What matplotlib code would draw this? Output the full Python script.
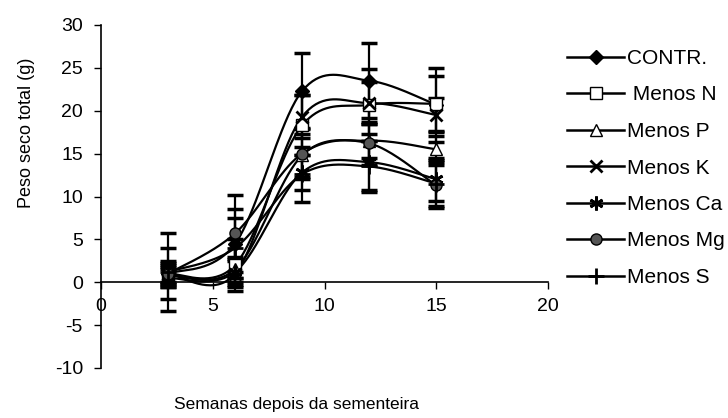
import numpy as np
import matplotlib
matplotlib.use("Agg")
import matplotlib.pyplot as plt

plt.rcParams['font.family'] = ['Liberation Sans', 'DejaVu Sans']
plt.rcParams['axes.unicode_minus'] = False

weeks = [3, 6, 9, 12, 15]
labels = ["CONTR.", " Menos N", "Menos P", "Menos K", "Menos Ca", "Menos Mg", "Menos S"]

contr = [1.0, 4.5, 22.3, 23.5, 20.7]
menos_n = [1.0, 2.0, 18.3, 20.7, 20.8]
menos_p = [0.8, 1.5, 14.8, 16.5, 15.5]
menos_k = [1.0, 1.0, 19.3, 20.9, 19.5]
menos_ca = [0.5, 1.2, 12.8, 14.0, 12.0]
menos_mg = [1.0, 5.7, 15.0, 16.2, 11.3]
menos_s = [1.2, 4.0, 12.6, 13.5, 11.5]

err_contr = [3.0, 4.0, 4.4, 4.4, 4.3]
err_n = [1.5, 3.0, 3.5, 4.2, 3.2]
err_p = [1.0, 1.5, 2.5, 2.0, 1.5]
err_k = [1.0, 1.5, 2.5, 2.5, 2.0]
err_ca = [1.0, 1.5, 2.0, 3.3, 2.5]
err_mg = [1.2, 4.5, 3.0, 2.5, 2.4]
err_s = [4.5, 3.5, 3.2, 3.0, 2.8]

series = [contr, menos_n, menos_p, menos_k, menos_ca, menos_mg, menos_s]
errors = [err_contr, err_n, err_p, err_k, err_ca, err_mg, err_s]
markers = [dict(marker='D', mfc='black', ms=7),
           dict(marker='s', mfc='white', ms=8),
           dict(marker='^', mfc='white', ms=8),
           dict(marker='x', mfc='black', ms=9, mew=2),
           dict(marker=(6, 2, 0), mfc='black', ms=10, mew=2),
           dict(marker='o', mfc='#555555', ms=8),
           dict(marker='+', mfc='black', ms=12, mew=2)]


def smooth(x, y, n=40):
    x = np.asarray(x, float)
    y = np.asarray(y, float)
    px = np.concatenate([[x[0]], x, [x[-1]]])
    py = np.concatenate([[y[0]], y, [y[-1]]])
    xs, ys = [], []
    t = np.linspace(0, 1, n)
    for i in range(1, len(px) - 2):
        p0 = np.array([px[i], py[i]])
        p3 = np.array([px[i + 1], py[i + 1]])
        p1 = p0 + (np.array([px[i + 1], py[i + 1]]) - np.array([px[i - 1], py[i - 1]])) / 6
        p2 = p3 - (np.array([px[i + 2], py[i + 2]]) - np.array([px[i], py[i]])) / 6
        b = ((1 - t) ** 3)[:, None] * p0 + (3 * (1 - t) ** 2 * t)[:, None] * p1 \
            + (3 * (1 - t) * t ** 2)[:, None] * p2 + (t ** 3)[:, None] * p3
        xs.extend(b[:, 0])
        ys.extend(b[:, 1])
    return xs, ys


fig = plt.figure(figsize=(7.28, 4.18), dpi=100)
ax = fig.add_axes([101 / 728, 50 / 418, (548 - 101) / 728, (393 - 50) / 418])

handles = []
for vals, errs, mk, lab in zip(series, errors, markers, labels):
    sx, sy = smooth(weeks, vals)
    ax.plot(sx, sy, color='black', lw=1.6, zorder=2)
    ax.errorbar(weeks, vals, yerr=errs, fmt='none', ecolor='black',
                elinewidth=1.6, capsize=6, capthick=2.5, zorder=3)
    ax.plot(weeks, vals, linestyle='none', color='black', mec='black',
            zorder=4, **mk)
    h, = ax.plot([], [], color='black', lw=1.8, mec='black', **mk)
    handles.append(h)

ax.set_xlim(0, 20)
ax.set_ylim(-10, 30)
ax.set_xticks([0, 5, 10, 15, 20])
ax.set_yticks(range(-10, 31, 5))
ax.spines['top'].set_visible(False)
ax.spines['right'].set_visible(False)
ax.spines['bottom'].set_position(('data', 0))
ax.spines['left'].set_linewidth(1.2)
ax.spines['bottom'].set_linewidth(1.2)
ax.tick_params(axis='y', direction='out', length=5, width=1, labelsize=14, pad=8)
ax.tick_params(axis='x', direction='out', length=5, width=1, labelsize=14, pad=6)

fig.text(297 / 728, 1 - 405 / 418, "Semanas depois da sementeira",
         ha='center', va='center', fontsize=12.5)
fig.text(27 / 728, 1 - 133 / 418, "Peso seco total (g)", rotation=90,
         ha='center', va='center', fontsize=13)

fig.legend(handles, labels, loc='upper left', bbox_to_anchor=(567 / 728, 1 - 49 / 418),
           frameon=False, fontsize=15, handlelength=2.75, handletextpad=0.15,
           labelspacing=0.84, borderpad=0, borderaxespad=0)

fig.savefig("out.png", dpi=100)
